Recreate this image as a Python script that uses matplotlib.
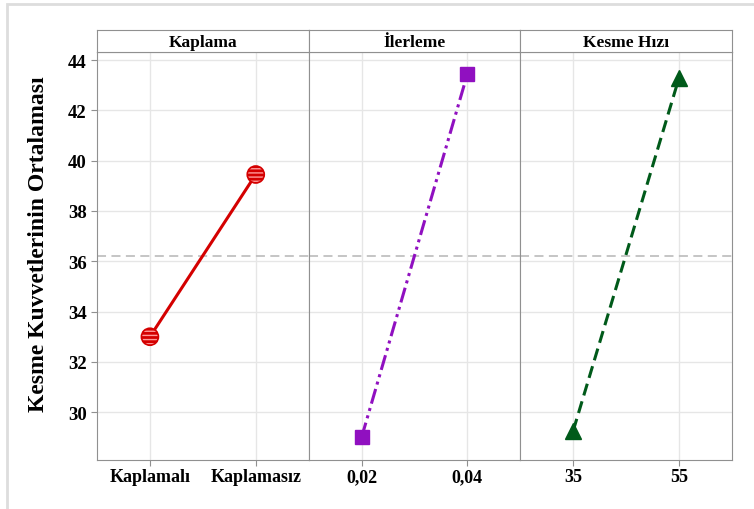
import numpy as np
import matplotlib.pyplot as plt
from matplotlib.patches import Rectangle

# Veriler (grafikten okunan ortalamalar)
kaplama_seviye = ['Kaplamalı', 'Kaplamasız']
kaplama_ort = [33.0, 39.45]
ilerleme_seviye = ['0,02', '0,04']
ilerleme_ort = [29.0, 43.45]
hiz_seviye = ['35', '55']
hiz_ort = [29.27, 43.3]
genel_ortalama = 36.22
paneller = ['Kaplama', 'İlerleme', 'Kesme Hızı']
y_ticks = [30, 32, 34, 36, 38, 40, 42, 44]

plt.rcParams['font.family'] = ['Liberation Serif', 'DejaVu Serif']
plt.rcParams['font.weight'] = 'bold'

fig = plt.figure(figsize=(7.54, 5.10), dpi=100)
fig.patches.append(Rectangle((7 / 754, -0.1), 1.2, 1 - 5 / 510 + 0.1, transform=fig.transFigure,
                             fill=False, edgecolor='#dddddd', linewidth=2))

sol, sag = 97 / 754, 732 / 754
alt, ust = 1 - 461 / 510, 1 - 53 / 510
serit_h = 22.5 / 510
w = (sag - sol) / 3

veri = [(kaplama_seviye, kaplama_ort), (ilerleme_seviye, ilerleme_ort), (hiz_seviye, hiz_ort)]
stiller = [
    dict(color='#d40000', ls='-', marker='o'),
    dict(color='#9010c0', ls=(0, (5, 1.5, 1, 1.5, 1, 1.5)), marker='s'),
    dict(color='#005a1a', ls=(0, (4, 2)), marker='^'),
]

for i, ((seviye, ort), st) in enumerate(zip(veri, stiller)):
    ax = fig.add_axes([sol + i * w, alt, w, ust - alt])
    x = np.arange(len(seviye))
    ax.plot(x, ort, color=st['color'], linestyle=st['ls'], linewidth=2.2, zorder=3)
    if st['marker'] == 'o':
        ax.scatter(x, ort, s=150, facecolor=st['color'], edgecolor='#ff9999', hatch='----',
                   linewidth=0, zorder=4)
        ax.scatter(x, ort, s=150, facecolor='none', edgecolor=st['color'], linewidth=1.2, zorder=5)
    elif st['marker'] == 's':
        ax.plot(x, ort, linestyle='none', marker='s', markersize=10, color=st['color'], zorder=4)
    else:
        ax.plot(x, ort, linestyle='none', marker='^', markersize=12, color=st['color'], zorder=4)
    ax.axhline(genel_ortalama, color='#c0c0c0', linestyle=(0, (5, 3)), linewidth=1.3, zorder=2)

    ax.set_xlim(-0.5, 1.5)
    ax.set_ylim(28.1, 44.32)
    ax.set_xticks(x)
    ax.set_xticklabels(seviye, fontsize=13, fontweight='bold')
    ax.set_yticks(y_ticks)
    ax.grid(True, color='#e6e6e6', linewidth=1)
    ax.set_axisbelow(True)
    for s in ax.spines.values():
        s.set_color('#909090')
    ax.tick_params(axis='x', length=4, color='#909090', pad=2)
    if i == 0:
        ax.set_yticklabels([str(t) for t in y_ticks], fontsize=13.5, fontweight='bold')
        ax.tick_params(axis='y', length=4, color='#909090')
    else:
        ax.tick_params(axis='y', length=0, labelleft=False)

    # şerit başlığı
    sax = fig.add_axes([sol + i * w, ust, w, serit_h])
    sax.set_xticks([])
    sax.set_yticks([])
    for s in sax.spines.values():
        s.set_color('#909090')
    sax.text(0.5, 0.45, paneller[i], ha='center', va='center', fontsize=12.5, fontweight='bold',
             transform=sax.transAxes)

fig.text(39 / 754, 1 - 244 / 510, 'Kesme Kuvvetlerinin Ortalaması', rotation=90,
         ha='center', va='center', fontsize=17, fontweight='bold')

fig.savefig('out.png', dpi=100)
